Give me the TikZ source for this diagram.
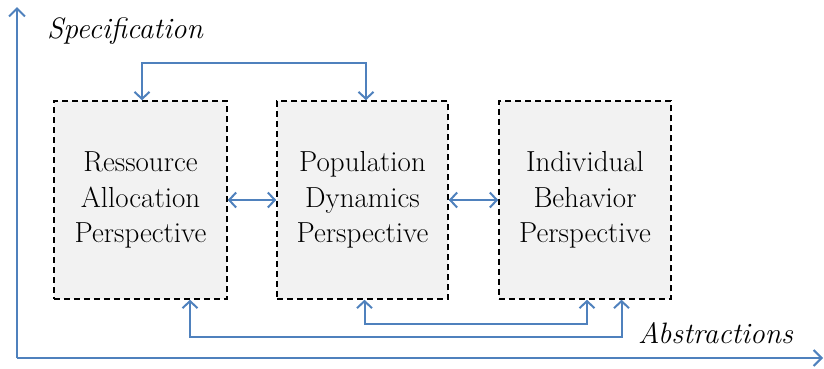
\documentclass[tikz,border=0pt]{standalone}
\usepackage{fontspec}
\usetikzlibrary{arrows.meta}
\definecolor{axblue}{HTML}{4F81BD}
\definecolor{boxgray}{HTML}{F2F2F2}
\begin{document}
\begin{tikzpicture}[x=1pt,y=-1pt,
  persp/.style={draw=black, dash pattern=on 6pt off 4pt, line width=1.5pt, fill=boxgray,
    minimum height=198pt, inner sep=0pt, align=center,
    font=\rmfamily\fontsize{29}{35.5}\selectfont},
  link/.style={draw=axblue, line width=2pt,
    arrows={Straight Barb[length=7pt,width=15pt]-Straight Barb[length=7pt,width=15pt]}},
  axis/.style={draw=axblue, line width=2pt, -{Straight Barb[length=8pt,width=16pt]}},
  axlabel/.style={inner sep=0pt, anchor=base west, font=\rmfamily\fontsize{29.5}{35.5}\selectfont\itshape}]
\useasboundingbox (0,0) rectangle (824,368);
\coordinate (o) at (17,358);
\coordinate (ytip) at (17,7);
\coordinate (xtip) at (823,358);
\draw[axis] (o) -- (ytip);
\draw[axis] (o) -- (xtip);
\node[axlabel] (spec) at (47,38) {Specification};
\node[axlabel] (abs) at (638,343) {Abstractions};
\node[persp, minimum width=173pt] (ra) at (140.5,200) {Ressource\\Allocation\\Perspective};
\node[persp, minimum width=171pt] (pd) at (362.5,200) {Population\\Dynamics\\Perspective};
\node[persp, minimum width=172pt] (ib) at (585,200) {Individual\\Behavior\\Perspective};
\draw[link] (ra.east) -- (pd.west);
\draw[link] (pd.east) -- (ib.west);
\draw[link] ([xshift=1.5pt]ra.north) -- ++(0,-37) -| ([xshift=3.5pt]pd.north);
\draw[link] ([xshift=49.5pt]ra.south) -- ++(0,37) -| ([xshift=36.5pt]ib.south);
\draw[link] ([xshift=2pt]pd.south) -- ++(0,24) -| ([xshift=2pt]ib.south);
\end{tikzpicture}
\end{document}
